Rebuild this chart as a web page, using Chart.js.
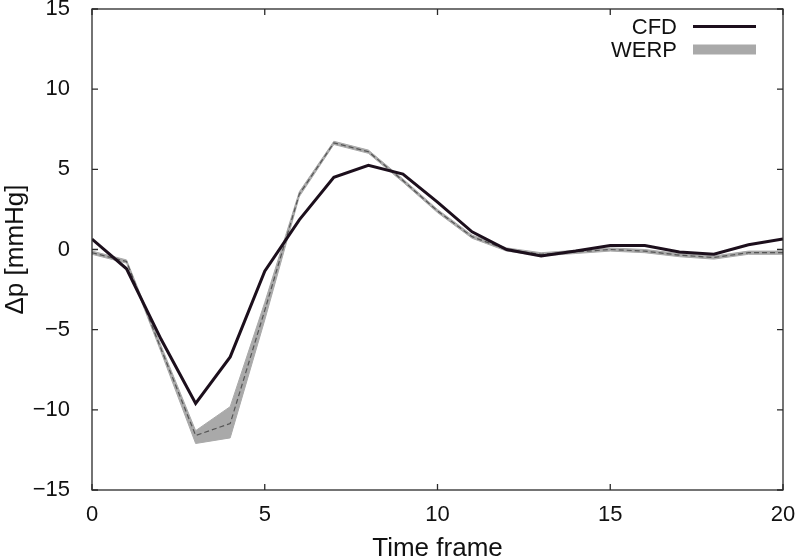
<!DOCTYPE html>
<html>
<head>
<meta charset="utf-8">
<script src="https://cdn.jsdelivr.net/npm/chart.js@4/dist/chart.umd.min.js"></script>
<style>
  html, body { margin: 0; padding: 0; background: #ffffff; }
  #wrap { width: 799px; height: 558px; }
</style>
</head>
<body>
<div id="wrap"><canvas id="c" width="799" height="558"></canvas></div>
<script>
// ---- Data ----
const timeFrames = [0,1,2,3,4,5,6,7,8,9,10,11,12,13,14,15,16,17,18,19,20];
const cfdValues  = [0.65,-1.2,-5.6,-9.6,-6.7,-1.35,1.85,4.5,5.25,4.7,2.95,1.1,0.0,-0.4,-0.1,0.25,0.25,-0.15,-0.3,0.3,0.65];
const werpMean   = [-0.2,-0.75,-6.2,-11.6,-10.85,-3.8,3.45,6.65,6.1,4.3,2.4,0.8,0.0,-0.3,-0.15,0.0,-0.1,-0.35,-0.5,-0.2,-0.2];
const werpUpper  = [-0.1,-0.65,-6.0,-11.3,-9.8,-3.3,3.6,6.75,6.2,4.4,2.5,0.9,0.1,-0.2,-0.05,0.1,0.0,-0.25,-0.4,-0.1,-0.1];
const werpLower  = [-0.3,-0.85,-6.4,-12.1,-11.75,-4.4,3.3,6.55,6.0,4.2,2.3,0.7,-0.1,-0.4,-0.25,-0.1,-0.2,-0.45,-0.6,-0.3,-0.3];
const xTickValues = [0,5,10,15,20];
const yTickValues = [-15,-10,-5,0,5,10,15];
const legendLabels = ['CFD','WERP'];
const xTitle = 'Time frame';
const yTitle = '\u0394p [mmHg]';

const FONT = "'Liberation Sans', Arial, Helvetica, sans-serif";
const AXIS_COLOR = '#2a2a2a';
const CFD_COLOR = '#1c0f1c';
const BAND_COLOR = '#a9a9a9';
const MEAN_COLOR = '#555555';

const pts = (ys) => timeFrames.map((x, i) => ({x: x, y: ys[i]}));

const frameAndTicks = {
  id: 'frameAndTicks',
  afterDatasetsDraw(chart) {
    const {ctx, chartArea: a, scales: {x, y}} = chart;
    ctx.save();
    ctx.strokeStyle = AXIS_COLOR;
    ctx.lineWidth = 1.3;
    ctx.strokeRect(a.left, a.top, a.right - a.left, a.bottom - a.top);
    const tl = 6;
    ctx.beginPath();
    xTickValues.forEach(v => {
      const px = x.getPixelForValue(v);
      ctx.moveTo(px, a.bottom); ctx.lineTo(px, a.bottom - tl);
      ctx.moveTo(px, a.top); ctx.lineTo(px, a.top + tl);
    });
    yTickValues.forEach(v => {
      const py = y.getPixelForValue(v);
      ctx.moveTo(a.left, py); ctx.lineTo(a.left + tl, py);
      ctx.moveTo(a.right, py); ctx.lineTo(a.right - tl, py);
    });
    ctx.stroke();

    // legend (text left, sample right)
    ctx.font = '22px ' + FONT;
    ctx.fillStyle = '#111111';
    ctx.textAlign = 'right';
    ctx.textBaseline = 'middle';
    const tx = 677, sx0 = 693, sx1 = 756;
    const r1 = 26.5, r2 = 49.5;
    ctx.fillText(legendLabels[0], tx, r1 + 1);
    ctx.fillText(legendLabels[1], tx, r2 + 1);
    ctx.strokeStyle = CFD_COLOR;
    ctx.lineWidth = 3;
    ctx.beginPath(); ctx.moveTo(sx0, r1); ctx.lineTo(sx1, r1); ctx.stroke();
    ctx.fillStyle = BAND_COLOR;
    ctx.fillRect(sx0, r2 - 5, sx1 - sx0, 10);
    ctx.restore();
  }
};

new Chart(document.getElementById('c'), {
  type: 'line',
  data: {
    datasets: [
      { label: 'CFD', data: pts(cfdValues), borderColor: CFD_COLOR, borderWidth: 3,
        pointRadius: 0, fill: false, tension: 0, order: 0 },
      { label: 'WERP mean', data: pts(werpMean), borderColor: MEAN_COLOR, borderWidth: 1.2,
        borderDash: [5, 3], pointRadius: 0, fill: false, tension: 0, order: 1 },
      { label: 'WERP upper', data: pts(werpUpper), borderColor: BAND_COLOR, borderWidth: 1,
        backgroundColor: BAND_COLOR, pointRadius: 0, fill: '+1', tension: 0, order: 2 },
      { label: 'WERP lower', data: pts(werpLower), borderColor: BAND_COLOR, borderWidth: 1,
        pointRadius: 0, fill: false, tension: 0, order: 3 }
    ]
  },
  options: {
    responsive: false,
    animation: false,
    devicePixelRatio: 1,
    layout: { padding: { left: 0, right: 16, top: 9, bottom: 0 } },
    plugins: { legend: { display: false }, tooltip: { enabled: false } },
    scales: {
      x: {
        type: 'linear', min: 0, max: 20,
        afterBuildTicks: (s) => { s.ticks = xTickValues.map(v => ({value: v})); },
        afterFit: (s) => { s.height = 68; s.paddingLeft = 0; s.paddingRight = 0; },
        grid: { display: false }, border: { display: false },
        ticks: { color: '#111111', font: { family: FONT, size: 22 }, padding: 4, maxRotation: 0 },
        title: { display: true, text: xTitle, color: '#111111',
                 font: { family: FONT, size: 26, lineHeight: 1 }, padding: { top: 0, bottom: -4 } }
      },
      y: {
        type: 'linear', min: -15, max: 15,
        afterBuildTicks: (s) => { s.ticks = yTickValues.map(v => ({value: v})); },
        afterFit: (s) => { s.width = 92; s.paddingTop = 0; s.paddingBottom = 0; },
        grid: { display: false }, border: { display: false },
        ticks: { color: '#111111', font: { family: FONT, size: 22 }, padding: 14,
                 callback: (v) => String(v).replace('-', '\u2212') },
        title: { display: true, text: yTitle, color: '#111111',
                 font: { family: FONT, size: 26, lineHeight: 1.2 }, padding: { top: 0, bottom: 0 } }
      }
    }
  },
  plugins: [frameAndTicks]
});
</script>
</body>
</html>
